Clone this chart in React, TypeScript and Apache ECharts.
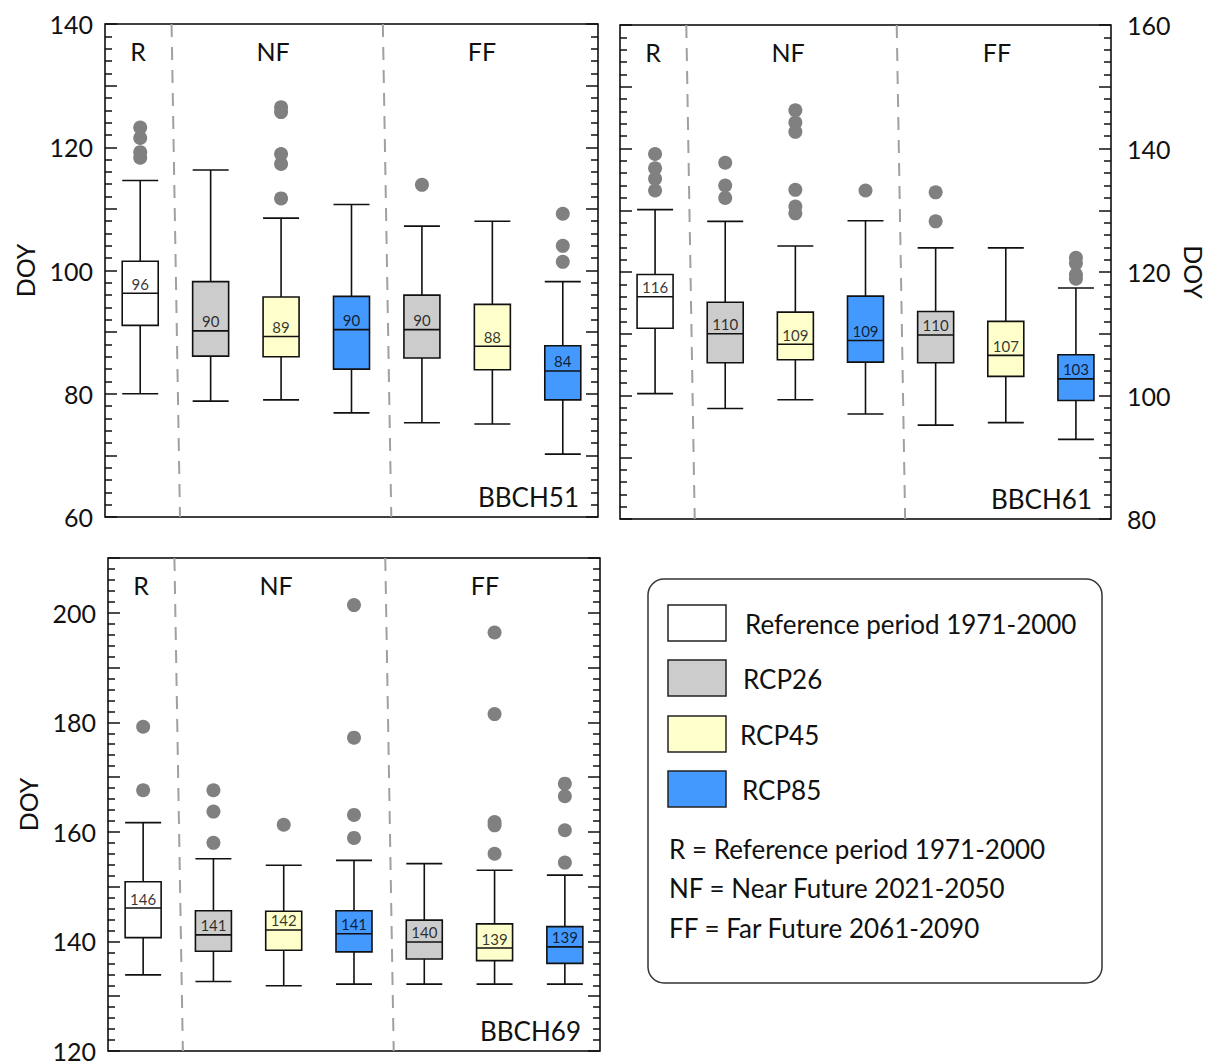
import React, { useEffect, useRef } from "react";
import * as echarts from "echarts";

// ---- data ----
const categories = ["R", "NF RCP26", "NF RCP45", "NF RCP85", "FF RCP26", "FF RCP45", "FF RCP85"];
const boxColors = ["#ffffff", "#cccccc", "#ffffcc", "#4499ff", "#cccccc", "#ffffcc", "#4499ff"];

// [min, Q1, median, Q3, max]
const bbch51Boxes = [
  [80.0, 91.1, 96.3, 101.5, 114.6],
  [78.8, 86.1, 90.2, 98.2, 116.3],
  [79.0, 86.0, 89.3, 95.7, 108.5],
  [76.9, 84.0, 90.4, 95.8, 110.7],
  [75.3, 85.8, 90.4, 96.0, 107.2],
  [75.1, 83.9, 87.7, 94.5, 108.0],
  [70.2, 79.0, 83.7, 87.8, 98.2],
];
const bbch51Outliers = [
  [123.2, 121.5, 119.2, 118.3],
  [],
  [126.5, 125.7, 118.9, 117.3, 111.7],
  [],
  [113.9],
  [],
  [109.2, 104.0, 101.4],
];
const bbch51Labels = ["96", "90", "89", "90", "90", "88", "84"];

const bbch61Boxes = [
  [100.3, 110.9, 116.0, 119.6, 130.1],
  [97.9, 105.3, 110.0, 115.1, 128.2],
  [99.3, 105.8, 108.3, 113.5, 124.2],
  [97.0, 105.4, 108.9, 116.1, 128.3],
  [95.2, 105.3, 109.8, 113.6, 123.9],
  [95.6, 103.1, 106.5, 112.0, 123.9],
  [92.9, 99.2, 102.7, 106.6, 117.4],
];
const bbch61Outliers = [
  [139.1, 136.8, 135.1, 133.2],
  [137.7, 134.0, 132.0],
  [146.2, 144.2, 142.7, 133.3, 130.6, 129.5],
  [133.2],
  [132.9, 128.2],
  [],
  [122.3, 121.4, 119.6, 118.9],
];
const bbch61Labels = ["116", "110", "109", "109", "110", "107", "103"];

const bbch69Boxes = [
  [133.9, 140.7, 146.1, 150.9, 161.7],
  [132.7, 138.2, 141.2, 145.6, 155.1],
  [131.9, 138.4, 142.1, 145.5, 153.9],
  [132.2, 138.1, 141.4, 145.6, 154.8],
  [132.2, 136.8, 139.9, 143.9, 154.2],
  [132.2, 136.5, 138.8, 143.2, 153.0],
  [132.2, 136.0, 139.0, 142.7, 152.1],
];
const bbch69Outliers = [
  [179.2, 167.6],
  [167.6, 163.7, 158.0],
  [161.3],
  [201.4, 177.2, 163.1, 158.9],
  [],
  [196.4, 181.5, 161.8, 161.2, 156.0],
  [168.8, 166.5, 160.3, 154.4],
];
const bbch69Labels = ["146", "141", "142", "141", "140", "139", "139"];

const periodLabels = ["R", "NF", "FF"];
const panelNames = ["BBCH51", "BBCH61", "BBCH69"];
const axisRanges = [
  [60, 140],
  [80, 160],
  [120, 210],
];
const legendItems = ["Reference period 1971-2000", "RCP26", "RCP45", "RCP85"];
const legendColors = ["#ffffff", "#cccccc", "#ffffcc", "#4499ff"];
const legendNotes = [
  "R = Reference period 1971-2000",
  "NF = Near Future 2021-2050",
  "FF = Far Future 2061-2090",
];

// ---- layout ----
const FONT = "Lato, 'Open Sans', sans-serif";
const grids = [
  { left: 105, top: 24, width: 493, height: 493, labelSide: "left" },
  { left: 620, top: 25, width: 491, height: 494, labelSide: "right" },
  { left: 108, top: 558, width: 492, height: 493, labelSide: "left" },
];

function buildOption() {
  const panels = [
    { boxes: bbch51Boxes, outliers: bbch51Outliers, labels: bbch51Labels },
    { boxes: bbch61Boxes, outliers: bbch61Outliers, labels: bbch61Labels },
    { boxes: bbch69Boxes, outliers: bbch69Outliers, labels: bbch69Labels },
  ];
  const grid: any[] = [];
  const xAxis: any[] = [];
  const yAxis: any[] = [];
  const series: any[] = [];
  const graphic: any[] = [];

  panels.forEach((p, k) => {
    const g = grids[k];
    const [ymin, ymax] = axisRanges[k];
    grid.push({
      left: g.left,
      top: g.top,
      width: g.width,
      height: g.height,
      show: true,
      borderColor: "#000",
      borderWidth: 1.5,
      backgroundColor: "#fff",
    });
    xAxis.push({
      type: "category",
      gridIndex: k,
      data: categories,
      boundaryGap: true,
      show: false,
      axisLine: { onZero: false },
    });
    xAxis.push({
      type: "value",
      gridIndex: k,
      min: -0.5,
      max: 6.5,
      show: false,
      axisLine: { onZero: false },
    });
    ["left", "right"].forEach((side) => {
      const labelled = side === g.labelSide;
      yAxis.push({
        type: "value",
        gridIndex: k,
        position: side,
        min: ymin,
        max: ymax,
        interval: 10,
        name: labelled ? "DOY" : "",
        nameLocation: "middle",
        nameGap: side === "left" ? 68 : 70,
        nameRotate: side === "left" ? 90 : -90,
        nameTextStyle: { fontSize: 25, fontFamily: FONT, color: "#111" },
        axisLine: { show: false, onZero: false },
        axisTick: {
          show: true,
          inside: true,
          length: 12,
          lineStyle: { color: "#111", width: 1.5 },
        },
        minorTick: {
          show: true,
          splitNumber: 5,
          length: 7,
          lineStyle: { color: "#111", width: 1.5 },
        },
        splitLine: { show: false },
        axisLabel: {
          show: labelled,
          margin: side === "left" ? 12 : 16,
          fontSize: 25,
          lineHeight: 20,
          fontFamily: FONT,
          color: "#111",
          formatter: (v: number) => (v % 20 === 0 ? String(v) : ""),
        },
      });
    });
    const yIdx = 2 * k;
    series.push({
      type: "boxplot",
      xAxisIndex: 2 * k,
      yAxisIndex: yIdx,
      boxWidth: [36, 36],
      silent: true,
      data: p.boxes.map((b, i) => ({
        value: b,
        itemStyle: { color: boxColors[i], borderColor: "#111", borderWidth: 1.6 },
      })),
      z: 3,
    });
    const outl: number[][] = [];
    p.outliers.forEach((arr, i) => arr.forEach((v) => outl.push([i, v])));
    series.push({
      type: "scatter",
      xAxisIndex: 2 * k,
      yAxisIndex: yIdx,
      symbol: "circle",
      symbolSize: 14,
      itemStyle: { color: "#808080", opacity: 1 },
      silent: true,
      data: outl,
      z: 2,
    });
    series.push({
      type: "scatter",
      xAxisIndex: 2 * k,
      yAxisIndex: yIdx,
      symbolSize: 0,
      silent: true,
      data: p.boxes.map((b, i) => [i, b[2]]),
      label: {
        show: true,
        position: "top",
        distance: 2,
        fontSize: 15,
        fontFamily: FONT,
        color: "#000",
        formatter: (d: any) => p.labels[d.dataIndex],
      },
      z: 5,
    });
    // dashed separators between periods
    [0.5, 3.5].forEach((bx) => {
      series.push({
        type: "line",
        xAxisIndex: 2 * k + 1,
        yAxisIndex: yIdx,
        symbol: "none",
        silent: true,
        data: [
          [bx - 0.055, ymax],
          [bx + 0.065, ymin],
        ],
        lineStyle: { color: "#a0a0a0", width: 2, type: [13, 10] },
        z: 1,
      });
    });

    // panel texts
    const periodX = [33, 168, 377];
    periodLabels.forEach((t, j) => {
      graphic.push({
        type: "text",
        x: g.left + periodX[j],
        y: g.top + 27,
        silent: true,
        style: {
          text: t,
          fill: "#111",
          font: `25px ${FONT}`,
          textAlign: "center",
          textVerticalAlign: "middle",
          align: "center",
          verticalAlign: "middle",
        },
        z: 10,
      });
    });
    graphic.push({
      type: "text",
      x: g.left + g.width - 19,
      y: g.top + g.height - 20,
      silent: true,
      style: {
        text: panelNames[k],
        fill: "#111",
        font: `26px ${FONT}`,
        textAlign: "right",
        textVerticalAlign: "middle",
        align: "right",
        verticalAlign: "middle",
      },
      z: 10,
    });
  });

  // legend box
  graphic.push({
    type: "rect",
    shape: { x: 648, y: 579, width: 454, height: 404, r: 16 },
    style: { fill: "#fff", stroke: "#333", lineWidth: 1.5 },
    silent: true,
    z: 5,
  });
  const swY = [605, 660, 716, 771];
  const txtX = [745, 743, 740, 742];
  legendItems.forEach((t, i) => {
    graphic.push({
      type: "rect",
      shape: { x: 668, y: swY[i], width: 58, height: 36 },
      style: { fill: legendColors[i], stroke: "#222", lineWidth: 1.5 },
      silent: true,
      z: 6,
    });
    graphic.push({
      type: "text",
      x: txtX[i],
      y: swY[i] + 19,
      silent: true,
      style: {
        text: t,
        fill: "#111",
        font: `26px ${FONT}`,
        textAlign: "left",
        textVerticalAlign: "middle",
        align: "left",
        verticalAlign: "middle",
      },
      z: 6,
    });
  });
  const noteY = [849, 888, 928];
  legendNotes.forEach((t, i) => {
    graphic.push({
      type: "text",
      x: 669,
      y: noteY[i],
      silent: true,
      style: {
        text: t,
        fill: "#111",
        font: `26px ${FONT}`,
        textAlign: "left",
        textVerticalAlign: "middle",
        align: "left",
        verticalAlign: "middle",
      },
      z: 6,
    });
  });

  return {
    animation: false,
    backgroundColor: "#ffffff",
    textStyle: { fontFamily: FONT },
    grid,
    xAxis,
    yAxis,
    series,
    graphic,
  };
}

export default function App() {
  const ref = useRef<HTMLDivElement>(null);
  useEffect(() => {
    if (!ref.current) return;
    const chart = echarts.init(ref.current, null, { renderer: "svg" });
    chart.setOption(buildOption() as any);
    return () => chart.dispose();
  }, []);
  return (
    <div
      ref={ref}
      style={{ position: "absolute", left: 0, top: 0, width: 1207, height: 1064, background: "#fff" }}
    />
  );
}
